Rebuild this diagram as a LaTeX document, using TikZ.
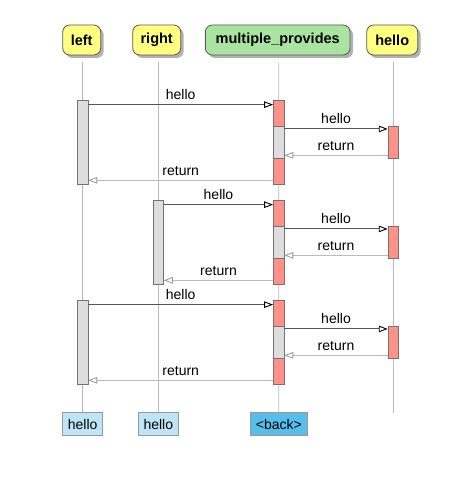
\documentclass[tikz,border=0pt]{standalone}
\usepackage{fontspec}
\setmainfont{Liberation Sans}
\usetikzlibrary{arrows.meta,shadows}
\definecolor{partyellow}{HTML}{FFFF80}
\definecolor{partgreen}{HTML}{A9E5A0}
\definecolor{actred}{HTML}{FF9189}
\definecolor{actgrey}{HTML}{DDDDDD}
\definecolor{boxblue}{HTML}{BEE5F6}
\definecolor{backblue}{HTML}{55BEEA}
\definecolor{lifegrey}{HTML}{BBBBBB}
\definecolor{calldark}{HTML}{555555}
\definecolor{retgrey}{HTML}{BBBBBB}
\begin{document}
\begin{tikzpicture}[x=1pt,y=-1pt,
  header/.style={draw=black!65, line width=0.8pt, rounded corners=7pt, minimum height=30pt, inner sep=0pt,
     font=\fontsize{14.5}{16}\selectfont\bfseries,
     drop shadow={shadow xshift=3pt, shadow yshift=-3pt, fill=black!30, opacity=1}},
  endbox/.style={draw=black!40, line width=0.7pt, minimum height=23pt, inner sep=0pt, font=\fontsize{14}{16}\selectfont},
  lifeline/.style={draw=lifegrey, line width=0.7pt},
  actbox/.style={draw=black!55, line width=0.7pt, minimum width=10.4pt, inner sep=0pt},
  call/.style={draw=calldark, line width=1pt, -{Triangle[open, length=9pt, width=6.5pt, line width=0.9pt, color=black]}},
  ret/.style={draw=retgrey, line width=1pt, -{Triangle[open, length=9pt, width=6.5pt, line width=0.8pt, color=black!40]}},
  msg/.style={font=\fontsize{14}{16}\selectfont, anchor=base, yshift=5pt, inner sep=0pt}
]
\useasboundingbox[fill=white] (0,0) rectangle (473,486);

% headers
\node[header, fill=partyellow, minimum width=38pt] (hleft) at (81.7,40) {left};
\node[header, fill=partyellow, minimum width=48pt] (hright) at (156.7,40) {right};
\node[header, fill=partgreen, minimum width=144.7pt] (hmp) at (277.7,40) {multiple\_provides};
\node[header, fill=partyellow, minimum width=51pt] (hhello) at (392.2,40) {hello};

% bottom boxes
\node[endbox, fill=boxblue, minimum width=40pt] (bleft) at (82.7,424.2) {hello};
\node[endbox, fill=boxblue, minimum width=40pt] (bright) at (158.3,424.2) {hello};
\node[endbox, fill=backblue, minimum width=57.7pt] (bmp) at (278.8,424.2) {<back>};

% lifelines
\coordinate (tleft) at (82.7,62.5);
\coordinate (tright) at (158.3,62.5);
\coordinate (tmp) at (278.7,62.5);
\coordinate (thello) at (393.3,62.5);
\coordinate (ehello) at (393.3,412.5);
\draw[lifeline] (tleft) -- (bleft.north);
\draw[lifeline] (tright) -- (bright.north);
\draw[lifeline] (tmp) -- (bmp.north);
\draw[lifeline] (thello) -- (ehello);

% three identical blocks
\foreach \i/\cx in {0/82.7, 1/158.3, 2/82.7} {
  \pgfmathsetmacro{\o}{100*\i}
  \node[actbox, fill=actgrey, minimum height=83.3pt] (ca\i) at (\cx,142.35+\o) {};
  \node[actbox, fill=actred, minimum height=83.3pt] (mr\i) at (278.7,142.35+\o) {};
  \node[actbox, fill=actgrey, minimum height=32.7pt] (mg\i) at (278.7,142.35+\o) {};
  \node[actbox, fill=actred, minimum height=32.7pt] (hr\i) at (393.3,142.35+\o) {};
  \draw[call] ([yshift=-4.3pt]ca\i.north east) -- node[msg]{hello} ([yshift=-4.3pt]mr\i.north west);
  \draw[call] ([yshift=-3.3pt]mg\i.north east) -- node[msg]{hello} ([yshift=-3.3pt]hr\i.north west);
  \draw[ret] ([yshift=3.7pt]hr\i.south west) -- node[msg]{return} ([yshift=3.7pt]mg\i.south east);
  \draw[ret] ([yshift=4pt]mr\i.south west) -- node[msg]{return} ([yshift=4pt]ca\i.south east);
}
\end{tikzpicture}
\end{document}
